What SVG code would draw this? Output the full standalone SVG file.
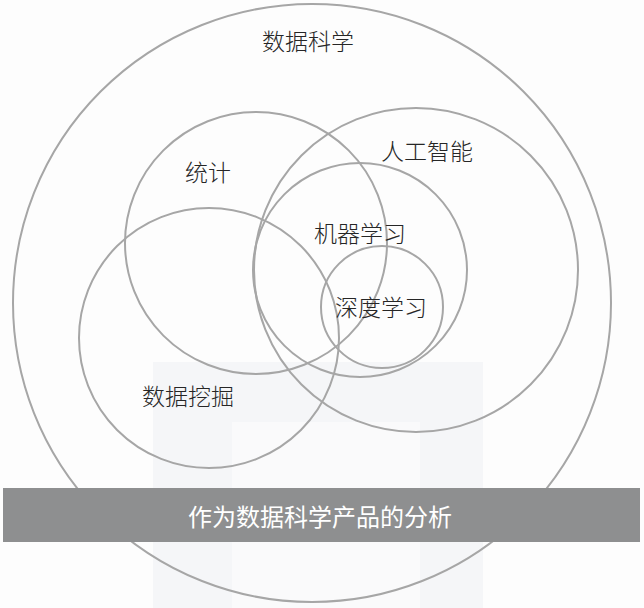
<svg xmlns="http://www.w3.org/2000/svg" width="644" height="608" viewBox="0 0 644 608">
<style>
.c{fill:none;stroke:#a6a6a6;stroke-width:2}
.t{font-family:"Noto Sans CJK SC","Noto Sans CJK JP",sans-serif;font-size:23px;font-weight:300;fill:#262626;text-anchor:middle}
.b{font-family:"Noto Sans CJK SC","Noto Sans CJK JP",sans-serif;font-size:24px;font-weight:400;fill:#ffffff;text-anchor:middle}
</style>
<rect width="644" height="608" fill="#fdfdfd"/>
<g id="watermark">
<rect x="153" y="362" width="330" height="246" fill="#f5f6f8"/>
<rect x="232" y="422" width="188" height="186" fill="#fafafb"/>
</g>
<g id="connectors"></g>
<g id="data-science"><circle class="c" cx="312" cy="303" r="299"/><text class="t" x="308" y="50">数据科学</text></g>
<g id="statistics"><circle class="c" cx="256" cy="243" r="131"/><text class="t" x="208" y="181">统计</text></g>
<g id="ai"><circle class="c" cx="416" cy="270" r="162"/><text class="t" x="427" y="160">人工智能</text></g>
<g id="data-mining"><circle class="c" cx="209" cy="338" r="130"/><text class="t" x="188" y="405">数据挖掘</text></g>
<g id="machine-learning"><circle class="c" cx="360" cy="270" r="107"/><text class="t" x="360" y="242">机器学习</text></g>
<g id="deep-learning"><circle class="c" cx="382" cy="307" r="61"/><text class="t" x="381" y="316">深度学习</text></g>
<g id="product-bar"><rect x="3" y="488" width="637" height="54" fill="#8e8f90"/><text class="b" x="320" y="526">作为数据科学产品的分析</text></g>
</svg>
